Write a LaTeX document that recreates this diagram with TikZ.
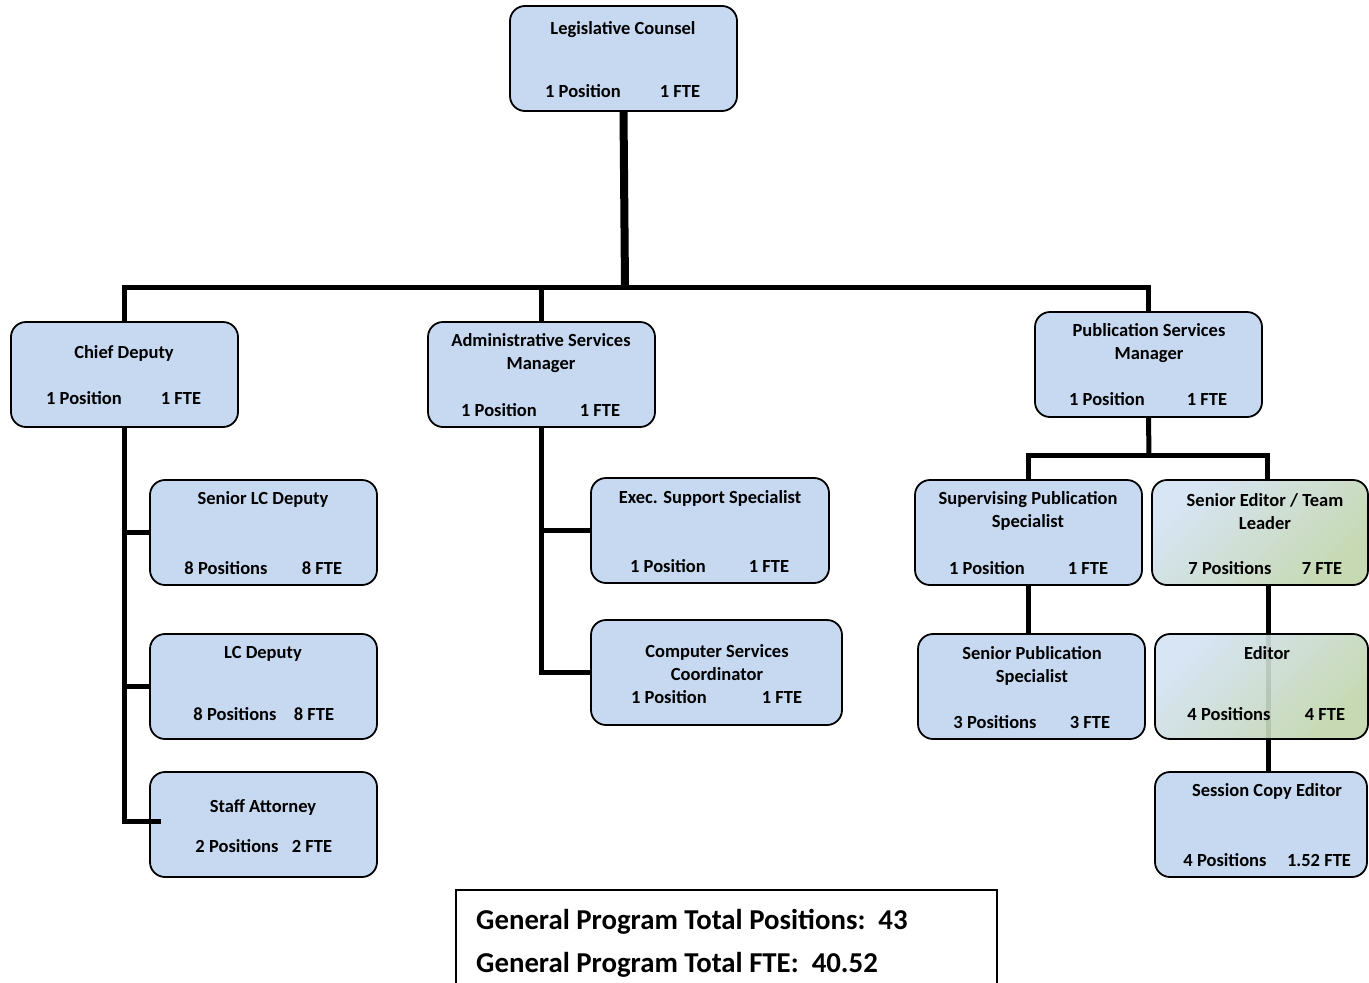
\documentclass[tikz,border=0pt]{standalone}
\usepackage{fontspec}
\setmainfont{Carlito}
\usepackage{tikz}
\usetikzlibrary{positioning}
\pgfdeclarelayer{bg}
\pgfsetlayers{bg,main}

\definecolor{boxblue}{RGB}{198,217,241}
\definecolor{shadeblue}{RGB}{216,229,246}
\definecolor{shadegreen}{RGB}{192,213,150}

\tikzset{
  unit/.style={draw=black, line width=1.8pt, rounded corners=15pt, fill=boxblue,
    minimum width=227pt, minimum height=105pt, inner sep=0pt},
  greenunit/.style={unit, top color=shadeblue, bottom color=shadegreen,
    shading angle=45, fill opacity=0.7},
  lbl/.style={font=\bfseries\fontsize{18.5}{23}\selectfont, inner sep=0pt, align=center,
    yshift=-1.5pt},
  link/.style={draw=black, line width=5pt},
  trunk/.style={draw=black, line width=8pt},
}

\begin{document}
\begin{tikzpicture}[x=1pt, y=-1pt]
  \useasboundingbox (0,0) rectangle (1369,983);

  % boxes
  \node[unit] (lc) at (623.5,58.5) {};
  \node[unit] (cd) at (124.5,374.5) {};
  \node[unit] (asm) at (541.5,374.5) {};
  \node[unit] (psm) at (1148.5,364.5) {};
  \node[unit] (sld) at (263.5,532.5) {};
  \node[unit] (lcd) at (263.5,686.5) {};
  \node[unit] (sa) at (263.5,824.5) {};
  \node[unit, minimum width=238pt] (ess) at (710,530.5) {};
  \node[unit, minimum width=251pt] (csc) at (716.5,672.5) {};
  \node[unit] (sps) at (1028.5,532.5) {};
  \node[unit] (spub) at (1031.5,686.5) {};
  \node[greenunit, minimum width=216pt] (se) at (1260,532.5) {};
  \node[greenunit, minimum width=213pt] (ed) at (1261.5,686.5) {};
  \node[unit, minimum width=212pt] (sce) at (1261,824.5) {};

  % titles
  \node[lbl] (lc-t) at (623,28) {Legislative Counsel};
  \node[lbl] (cd-t) at (124,352) {Chief Deputy};
  \node[lbl] (asm-t) at (541,352) {Administrative Services\\Manager};
  \node[lbl] (psm-t) at (1149,341.5) {Publication Services\\Manager};
  \node[lbl] (sld-t) at (263,498) {Senior LC Deputy};
  \node[lbl] (lcd-t) at (263,652) {LC Deputy};
  \node[lbl] (sa-t) at (263,806) {Staff Attorney};
  \node[lbl] (ess-t) at (710,497) {Exec. Support Specialist};
  \node[lbl] (csc-t) at (717,661.5) {Computer Services\\Coordinator};
  \node[lbl] (sps-t) at (1028,509.5) {Supervising Publication\\Specialist};
  \node[lbl] (se-t) at (1265,510.5) {Senior Editor / Team\\Leader};
  \node[lbl] (spub-t) at (1032,664.5) {Senior Publication\\Specialist};
  \node[lbl] (ed-t) at (1267,652) {Editor};
  \node[lbl] (sce-t) at (1267,790) {Session Copy Editor};

  % counts
  \node[lbl] (lc-p) at (583,90) {1 Position};
  \node[lbl] (lc-f) at (680,90) {1 FTE};
  \node[lbl] (cd-p) at (84,397) {1 Position};
  \node[lbl] (cd-f) at (181,397) {1 FTE};
  \node[lbl] (asm-p) at (499,409) {1 Position};
  \node[lbl] (asm-f) at (600,409) {1 FTE};
  \node[lbl] (psm-p) at (1107,398) {1 Position};
  \node[lbl] (psm-f) at (1207,398) {1 FTE};
  \node[lbl] (sld-p) at (226,567) {8 Positions};
  \node[lbl] (sld-f) at (322,567) {8 FTE};
  \node[lbl] (lcd-p) at (235,713) {8 Positions};
  \node[lbl] (lcd-f) at (314,713) {8 FTE};
  \node[lbl] (sa-p) at (237,845) {2 Positions};
  \node[lbl] (sa-f) at (312,845) {2 FTE};
  \node[lbl] (ess-p) at (668,565) {1 Position};
  \node[lbl] (ess-f) at (769,565) {1 FTE};
  \node[lbl] (csc-p) at (669,696) {1 Position};
  \node[lbl] (csc-f) at (782,696) {1 FTE};
  \node[lbl] (sps-p) at (987,567) {1 Position};
  \node[lbl] (sps-f) at (1088,567) {1 FTE};
  \node[lbl] (se-p) at (1230,567) {7 Positions};
  \node[lbl] (se-f) at (1322,567) {7 FTE};
  \node[lbl] (spub-p) at (995,721) {3 Positions};
  \node[lbl] (spub-f) at (1090,721) {3 FTE};
  \node[lbl] (ed-p) at (1229,713) {4 Positions};
  \node[lbl] (ed-f) at (1325,713) {4 FTE};
  \node[lbl] (sce-p) at (1225,859) {4 Positions};
  \node[lbl] (sce-f) at (1319,859) {1.52 FTE};

  % totals
  \node[draw=black, line width=1.5pt, minimum width=541pt, minimum height=110pt,
    inner sep=0pt] (tot) at (726.5,945) {};
  \node[lbl, font=\bfseries\fontsize{28.8}{43}\selectfont, anchor=west] (tot-p) at (476,920)
    {General Program Total Positions:\ \ 43};
  \node[lbl, font=\bfseries\fontsize{28.8}{43}\selectfont, anchor=west] (tot-f) at (476,963)
    {General Program Total FTE:\ \ 40.52};

  % connectors
  \coordinate (bus) at (625,287);
  \coordinate (psbus) at (1149,455);
  \draw[trunk] (lc.south) -- (bus);
  \draw[link] (cd.north) |- (bus) -| (psm.north);
  \draw[link] (asm.north) -- (asm.north |- bus);

  \draw[link] (cd.south) |- (sld.west);
  \draw[link] (cd.south) |- (lcd.west);
  \draw[link] (cd.south) |- ([xshift=12pt,yshift=3pt]sa.west);

  \draw[link] (asm.south) |- (ess.west);
  \draw[link] (asm.south) |- (csc.west);

  \draw[link] (psm.south) -- (psbus);
  \draw[link] (sps.north) |- (psbus) -| ([xshift=7pt]se.north);
  \draw[link] (sps.south) -- (sps.south |- spub.north);
  \begin{pgfonlayer}{bg}
    \draw[link] ([xshift=8pt]se.south) -- ([xshift=7pt]sce.north);
  \end{pgfonlayer}

\end{tikzpicture}
\end{document}
